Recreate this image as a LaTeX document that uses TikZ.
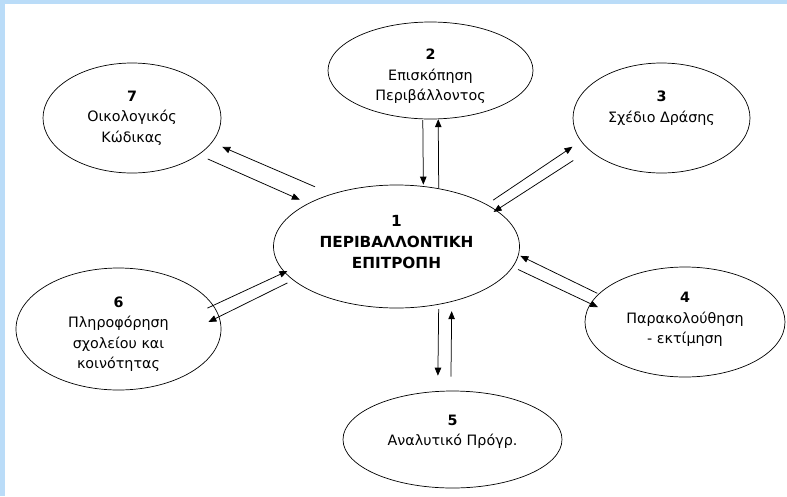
\documentclass[tikz,border=0pt]{standalone}
\usepackage{fontspec}
\setmainfont{DejaVu Sans}
\usetikzlibrary{shapes.geometric,arrows.meta}
\definecolor{edgeblue}{RGB}{186,220,248}

\begin{document}
\begin{tikzpicture}[x=1pt, y=-1pt,
    bubble/.style={draw, ellipse, line width=0.7pt, inner sep=0pt, align=center,
        font=\fontsize{14.3}{20.5}\selectfont},
    link/.style={-{Triangle[length=8pt,width=6.5pt]}, line width=0.75pt}]
    % Frame
    \useasboundingbox (0,0) rectangle (787,496);
    \fill[edgeblue] (0,0) rectangle (787,496);
    \fill[white] (5,4) rectangle (787,496);

    % Nodes
    \node[bubble, minimum width=246pt, minimum height=123pt, text depth=10pt,
        font=\fontsize{15.3}{21}\selectfont\bfseries] (committee) at (396.5,246.5) {1\\ΠΕΡΙΒΑΛΛΟΝΤΙΚΗ\\ΕΠΙΤΡΟΠΗ};
    \node[bubble, minimum width=205pt, minimum height=97pt, text height=63pt] (survey) at (430.5,70.5) {\textbf{2}\\Επισκόπηση\\Περιβάλλοντος};
    \node[bubble, minimum width=177pt, minimum height=110pt, text depth=23pt] (plan) at (661.5,118) {\textbf{3}\\Σχέδιο Δράσης};
    \node[bubble, minimum width=200pt, minimum height=110pt, text depth=8pt] (monitor) at (685,322) {\textbf{4}\\Παρακολούθηση\\- εκτίμηση};
    \node[bubble, minimum width=219pt, minimum height=97pt, text depth=18pt] (curriculum) at (452.5,439.5) {\textbf{5}\\Αναλυτικό Πρόγρ.};
    \node[bubble, minimum width=205pt, minimum height=122pt, text height=82pt] (inform) at (118.5,329) {\textbf{6}\\Πληροφόρηση\\σχολείου και\\κοινότητας};
    \node[bubble, minimum width=178pt, minimum height=110pt] (code) at (132,118) {\textbf{7}\\Οικολογικός\\Κώδικας};

    % Arrows
    \draw[link, shorten <=18pt, shorten >=11pt] (committee.141) -- (code.-17);
    \draw[link, shorten <=10pt, shorten >=9pt] (code.-29) -- (committee.154);
    \draw[link, shorten <=1pt, shorten >=1.5pt] (survey.-99) -- (committee.66);
    \draw[link] (committee.54) -- (survey.-81);
    \draw[link, shorten <=7.6pt, shorten >=10pt] (committee.25) -- (plan.196);
    \draw[link, shorten <=19pt, shorten >=-3.3pt] (plan.-156.5) -- (committee.20);
    \draw[link, shorten <=1.4pt, shorten >=1.9pt] (monitor.162.5) -- (committee.-4);
    \draw[link, shorten <=5.8pt, shorten >=-8.5pt] (committee.-10) -- (monitor.169.4);
    \draw[link, shorten <=4.6pt, shorten >=15.4pt] (committee.-54) -- (curriculum.107);
    \draw[link, shorten <=14pt, shorten >=9.4pt] (curriculum.92) -- (committee.-45);
    \draw[link, shorten <=-6.6pt, shorten >=-3.3pt] (inform.14) -- (committee.-167.5);
    \draw[link, shorten <=6.2pt, shorten >=-12.1pt] (committee.-162) -- (inform.7);
\end{tikzpicture}
\end{document}
